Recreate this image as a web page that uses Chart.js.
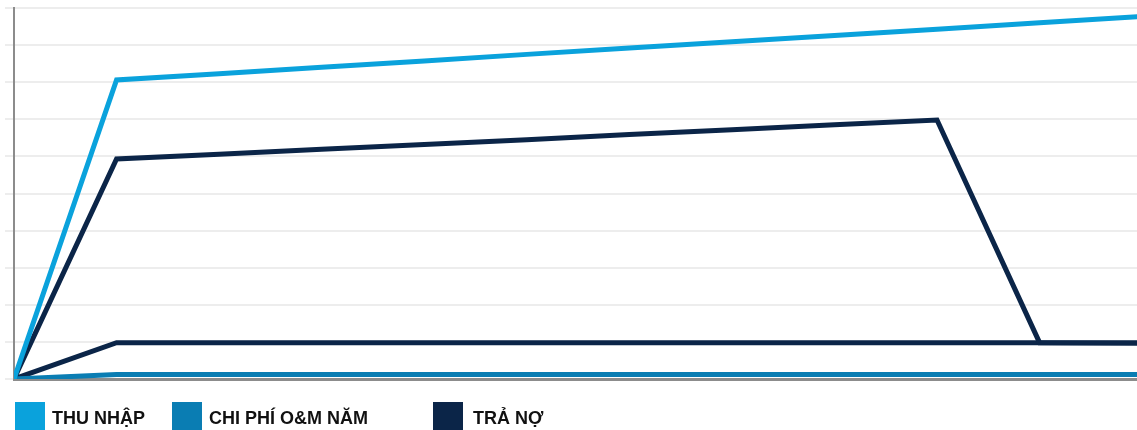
<!DOCTYPE html>
<html>
<head>
<meta charset="utf-8">
<script src="https://cdn.jsdelivr.net/npm/chart.js@4.4.0/dist/chart.umd.min.js"></script>
<style>
  html, body { margin: 0; padding: 0; background: #fff; }
  #wrap { position: relative; width: 1137px; height: 430px; overflow: hidden; }
  #c { position: absolute; left: 0; top: 0; }
  .lg { position: absolute; top: 402px; height: 30px; font-family: "Liberation Sans", Arial, sans-serif; font-weight: bold; font-size: 18px; color: #111; }
  .lg span.box { position: absolute; left: 0; top: 0; width: 30px; height: 30px; }
  .lg span.t { position: absolute; top: 6px; white-space: nowrap; }
</style>
</head>
<body>
<div id="wrap">
  <canvas id="c" width="1137" height="430"></canvas>
  <div id="legend"></div>
</div>
<script>
// ---- data ----
const years = [0, 1, 2, 3, 4, 5, 6, 7, 8, 9, 10, 11];
const thuNhap = [0, 8.06, 8.23, 8.40, 8.57, 8.75, 8.92, 9.09, 9.26, 9.43, 9.60, 9.77];
const chiPhiOM = [0, 0.12, 0.12, 0.12, 0.12, 0.12, 0.12, 0.12, 0.12, 0.12, 0.12, 0.12];
const traNo = [0, 5.93, 6.06, 6.19, 6.32, 6.45, 6.59, 6.72, 6.85, 6.98, 0.98, 0.97];
const thapNhat = [0, 0.98, 0.98, 0.98, 0.98, 0.98, 0.98, 0.98, 0.98, 0.98, 0.98, 0.97];
const legendLabels = ["THU NHẬP", "CHI PHÍ O&M NĂM", "TRẢ NỢ"];

const COL_LIGHT = "#0aa2dc";
const COL_MID = "#0a7db3";
const COL_NAVY = "#0b2548";

function pts(arr) { return years.map((x, i) => ({ x: x, y: arr[i] })); }

const common = { borderWidth: 5, pointRadius: 0, tension: 0, fill: false, borderJoinStyle: "miter", borderCapStyle: "butt" };

new Chart(document.getElementById("c"), {
  type: "line",
  data: {
    datasets: [
      Object.assign({ label: legendLabels[0], data: pts(thuNhap), borderColor: COL_LIGHT }, common),
      Object.assign({ label: legendLabels[1], data: pts(chiPhiOM), borderColor: COL_MID }, common),
      Object.assign({ label: legendLabels[2], data: pts(traNo), borderColor: COL_NAVY }, common),
      Object.assign({ label: "", data: pts(thapNhat), borderColor: COL_NAVY }, common)
    ]
  },
  options: {
    responsive: false,
    animation: false,
    layout: { padding: { top: 8, bottom: 51, left: 0, right: 0 } },
    plugins: { legend: { display: false }, tooltip: { enabled: false } },
    scales: {
      x: {
        type: "linear", min: 0, max: 10.95,
        grid: { display: false, drawTicks: false },
        ticks: { display: false },
        border: { display: true, color: "#8c8c8c", width: 3 },
        afterFit: s => { s.height = 0; }
      },
      y: {
        min: 0, max: 10,
        ticks: { display: false, stepSize: 1 },
        grid: { color: "#ededed", lineWidth: 2, drawTicks: true, tickLength: 9 },
        border: { display: true, color: "#8c8c8c", width: 2 },
        afterFit: s => { s.width = 14; }
      }
    }
  }
});

// legend (HTML)
const lgPos = [{ x: 15, t: 52 }, { x: 172, t: 209 }, { x: 433, t: 473 }];
const lgCols = [COL_LIGHT, COL_MID, COL_NAVY];
const lg = document.getElementById("legend");
legendLabels.forEach((txt, i) => {
  const d = document.createElement("div");
  d.className = "lg";
  d.style.left = lgPos[i].x + "px";
  const b = document.createElement("span"); b.className = "box"; b.style.background = lgCols[i];
  const t = document.createElement("span"); t.className = "t"; t.style.left = (lgPos[i].t - lgPos[i].x) + "px"; t.textContent = txt;
  d.appendChild(b); d.appendChild(t);
  lg.appendChild(d);
});
</script>
</body>
</html>
